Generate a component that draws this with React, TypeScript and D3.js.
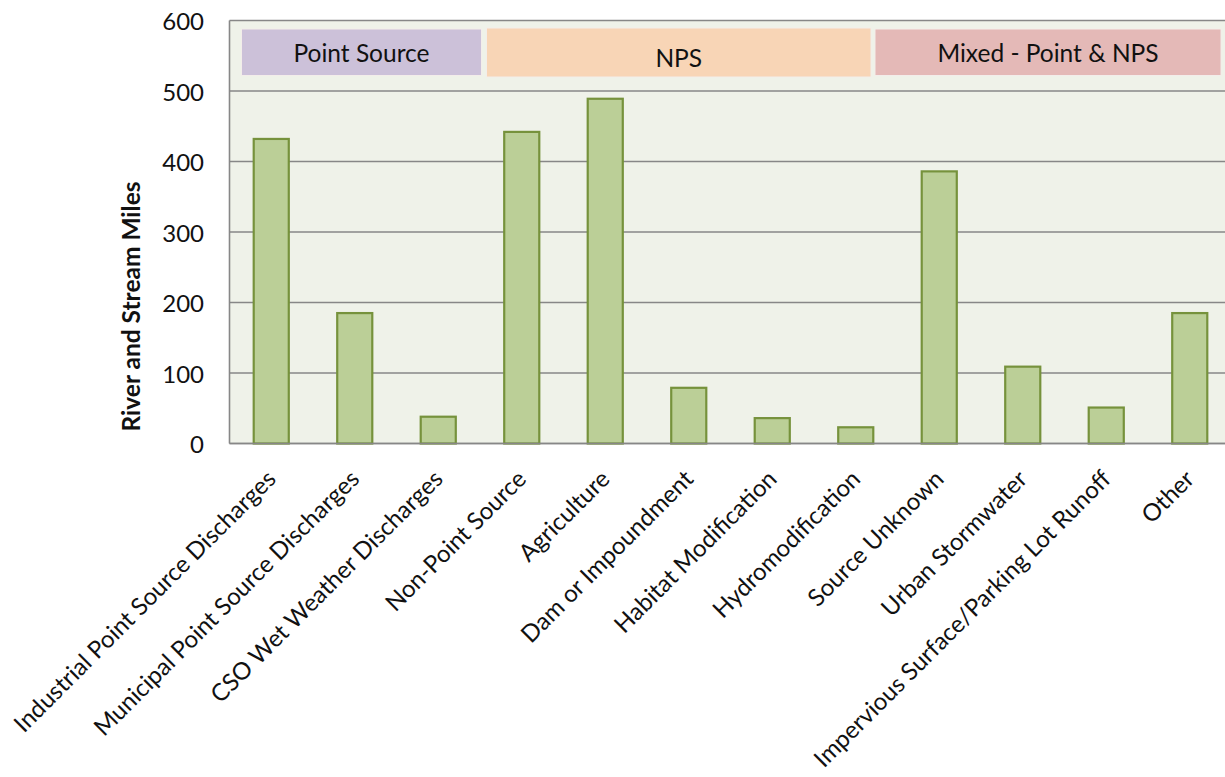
import React from "react";
import * as d3 from "d3";

// Impairment sources and river/stream miles affected
const categories = [
  "Industrial Point Source Discharges",
  "Municipal Point Source Discharges",
  "CSO Wet Weather Discharges",
  "Non-Point Source",
  "Agriculture",
  "Dam or Impoundment",
  "Habitat Modification",
  "Hydromodification",
  "Source Unknown",
  "Urban Stormwater",
  "Impervious Surface/Parking Lot Runoff",
  "Other",
];
const miles = [432, 185, 38, 442, 489, 79, 36, 23, 386, 109, 51, 185];
const yTicks = [0, 100, 200, 300, 400, 500, 600];
const groupLabels = ["Point Source", "NPS", "Mixed - Point & NPS"];
const groupColors = ["#CCC1D9", "#F8D5B6", "#E4B9B7"];

const W = 1225;
const H = 777;
const plotLeft = 229.5;
const step = 83.5;
const plotRight = plotLeft + step * categories.length;
const plotTop = 20.5;
const plotBottom = 443.5;

// header banner boxes, in pixel space: [x0, x1, y0, y1, textY]
const bannerLayout: [number, number, number, number, number][] = [
  [241.5, 481.5, 29, 75.5, 52],
  [486.5, 871, 28, 77, 57],
  [875, 1221, 29, 75.5, 52],
];

const FONT = "Lato, 'Open Sans', sans-serif";

export default function App() {
  const x = d3
    .scaleBand<string>()
    .domain(categories)
    .range([plotLeft, plotRight])
    .paddingInner(0.58)
    .paddingOuter(0.29);
  const y = d3.scaleLinear().domain([0, 600]).range([plotBottom, plotTop]);

  return (
    <div style={{ position: "absolute", left: 0, top: 0, width: W, height: H, background: "#fff" }}>
      <svg width={W} height={H} style={{ display: "block" }} fontFamily={FONT}>
        <rect x={plotLeft} y={plotTop} width={plotRight - plotLeft} height={plotBottom - plotTop} fill="#EFF2E9" />
        {yTicks.map((t) => (
          <line
            key={"g" + t}
            x1={plotLeft}
            x2={plotRight}
            y1={y(t)}
            y2={y(t)}
            stroke="#878787"
            strokeWidth={1.6}
          />
        ))}
        {groupLabels.map((g, i) => {
          const [x0, x1, y0, y1, ty] = bannerLayout[i];
          return (
            <g key={g}>
              <rect x={x0} y={y0} width={x1 - x0} height={y1 - y0} fill={groupColors[i]} stroke="#F3EDEA" strokeWidth={1} />
              <text x={(x0 + x1) / 2} y={ty} textAnchor="middle" dominantBaseline="central" fontSize={24.5} fill="#111">
                {g}
              </text>
            </g>
          );
        })}
        {categories.map((c, i) => (
          <rect
            key={c}
            x={x(c)}
            y={y(miles[i])}
            width={x.bandwidth()}
            height={y(0) - y(miles[i])}
            fill="#BBCF97"
            stroke="#76923C"
            strokeWidth={2.2}
          />
        ))}
        <line x1={plotLeft} x2={plotLeft} y1={plotTop} y2={plotBottom} stroke="#878787" strokeWidth={1.6} />
        <line x1={plotLeft} x2={plotRight} y1={plotBottom} y2={plotBottom} stroke="#878787" strokeWidth={1.6} />
        {yTicks.map((t) => (
          <text key={"t" + t} x={204} y={y(t)} textAnchor="end" dominantBaseline="central" fontSize={24} fill="#111">
            {t}
          </text>
        ))}
        {categories.map((c) => {
          const cx = (x(c) as number) + x.bandwidth() / 2;
          return (
            <text
              key={"l" + c}
              transform={`translate(${cx + 6},${plotBottom + 37}) rotate(-45)`}
              textAnchor="end"
              fontSize={24}
              fill="#111"
            >
              {c}
            </text>
          );
        })}
        <text
          transform={`translate(140,306.5) rotate(-90)`}
          textAnchor="middle"
          fontSize={24.5}
          fontWeight="bold"
          fill="#111"
        >
          River and Stream Miles
        </text>
      </svg>
    </div>
  );
}
